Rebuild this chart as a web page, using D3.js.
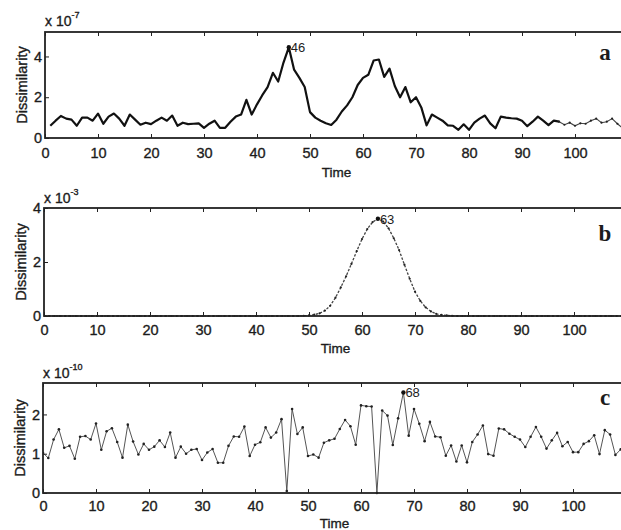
<!DOCTYPE html>
<html>
<head>
<meta charset="utf-8">
<script src="https://cdn.jsdelivr.net/npm/d3@7"></script>
<style>
  body { margin: 0; background: #fff; }
  svg text { font-family: "Liberation Sans", Arial, Helvetica, sans-serif; fill: #1c1c1c; }
  .lbl { stroke: #1c1c1c; stroke-width: 0.35; }
</style>
</head>
<body>
<svg id="chart" width="621" height="530"></svg>
<script>
// Dissimilarity series (a: x 1e-7, b: x 1e-3, c: x 1e-10)
const valuesA = [
  0.6, 0.85, 1.08, 0.95, 0.9, 0.6, 1.0, 1.0, 0.85, 1.2,
  0.7, 1.05, 1.2, 0.95, 0.6, 1.15, 0.9, 0.65, 0.75, 0.68,
  0.85, 1.0, 0.85, 1.1, 0.6, 0.75, 0.68, 0.7, 0.72, 0.5,
  0.7, 0.85, 0.5, 0.5, 0.8, 1.05, 1.15, 1.87, 1.15, 1.65,
  2.1, 2.5, 3.2, 2.77, 3.7, 4.45, 3.35, 2.95, 2.5, 1.27,
  1.0, 0.85, 0.72, 0.64, 0.9, 1.3, 1.6, 2.0, 2.6, 2.95,
  3.1, 3.8, 3.85, 3.0, 3.4, 2.55, 2.0, 2.5, 1.75, 2.0,
  1.5, 0.62, 1.15, 1.0, 0.85, 0.62, 0.6, 0.4, 0.67, 0.4,
  0.75, 0.95, 1.1, 0.72, 0.48, 1.05, 1.0, 0.97, 0.95, 0.85,
  0.58, 0.8, 1.05, 0.85, 0.63, 0.85, 0.8, 0.65, 0.75, 0.6,
  0.72, 0.7, 0.85, 0.95, 0.75, 0.8, 0.95, 0.7, 0.48, 0.85
];
const valuesB = [
  0, 0, 0, 0, 0, 0, 0, 0, 0, 0,
  0, 0, 0, 0, 0, 0, 0, 0, 0, 0,
  0, 0, 0, 0, 0, 0, 0, 0, 0, 0,
  0, 0, 0, 0, 0, 0, 0, 0, 0, 0,
  0, 0, 0, 0, 0, 0, 0, 0, 0, 0.01,
  0.02, 0.05, 0.1, 0.2, 0.38, 0.68, 1.06, 1.47, 1.93, 2.4,
  2.85, 3.22, 3.48, 3.6, 3.5, 3.25, 2.88, 2.44, 1.9, 1.38,
  0.9, 0.56, 0.32, 0.17, 0.08, 0.04, 0.02, 0.01, 0, 0,
  0, 0, 0, 0, 0, 0, 0, 0, 0, 0,
  0, 0, 0, 0, 0, 0, 0, 0, 0, 0,
  0, 0, 0, 0, 0, 0, 0, 0, 0, 0, 0
];
const valuesC = [
  1.02, 0.89, 1.36, 1.62, 1.15, 1.2, 0.87, 1.43, 1.45, 1.36,
  1.77, 1.1, 1.57, 1.65, 1.3, 0.9, 1.74, 1.31, 0.98, 1.25,
  1.1, 1.18, 1.34, 1.17, 1.54, 0.9, 1.18, 1.0, 1.1, 1.12,
  0.84, 1.03, 1.12, 0.77, 0.77, 1.2, 1.44, 1.43, 1.69, 0.94,
  1.23, 1.29, 1.67, 1.41, 1.54, 1.88, 0.05, 2.14, 1.5, 1.67,
  0.94, 0.98, 0.9, 1.28, 1.34, 1.38, 1.63, 1.86, 1.7, 1.23,
  2.23, 2.21, 2.2, 0.0, 2.1, 1.97, 1.22, 1.9, 2.56, 1.46,
  2.14, 1.76, 1.32, 1.81, 1.44, 1.42, 0.95, 1.21, 0.8, 1.21,
  0.78, 1.3, 1.49, 1.72, 0.99, 0.95, 1.64, 1.62, 1.51, 1.43,
  1.36, 1.17, 1.43, 1.68, 1.43, 1.13, 1.34, 1.53, 1.19, 1.3,
  1.04, 1.04, 1.25, 1.32, 1.47, 0.99, 1.6, 1.49, 0.97, 1.11, 1.0
];
const timeA = d3.range(1, 111);
const timeB = d3.range(0, 111);
const timeC = d3.range(0, 111);

const xTicks = [0, 10, 20, 30, 40, 50, 60, 70, 80, 90, 100];
const yTicksA = [0, 2, 4];
const yTicksB = [0, 2, 4];
const yTicksC = [0, 1, 2];
const peakTimes = [46, 63, 68];
const exponents = ["-7", "-3", "-10"];
const panelLetters = ["a", "b", "c"];

const svg = d3.select("#chart");

const panels = [
  { t: timeA, v: valuesA, yTicks: yTicksA, ymax: 5.2, top: 32, bottom: 138, left: 45,
    tickBase: 158, titleBase: 177, expBase: 26, letterBase: 60, style: "a" },
  { t: timeB, v: valuesB, yTicks: yTicksB, ymax: 4, top: 208, bottom: 316, left: 44,
    tickBase: 335, titleBase: 353, expBase: 203, letterBase: 241, style: "b" },
  { t: timeC, v: valuesC, yTicks: yTicksC, ymax: 2.8, top: 383, bottom: 493, left: 43,
    tickBase: 511, titleBase: 528, expBase: 378, letterBase: 405, style: "c" }
];

panels.forEach((p, i) => {
  const x = d3.scaleLinear().domain([0, 110]).range([p.left, p.left + 110 * 5.3]);
  const y = d3.scaleLinear().domain([0, p.ymax]).range([p.bottom, p.top]);
  const g = svg.append("g");

  // series
  const pts = p.t.map((t, k) => [t, p.v[k]]);
  const line = d3.line().x(d => x(d[0])).y(d => y(d[1]));
  const clipId = "clip" + i;
  svg.append("clipPath").attr("id", clipId)
    .append("rect").attr("x", p.left).attr("y", p.top - 2)
    .attr("width", 621 - p.left).attr("height", p.bottom - p.top + 4);
  const gl = g.append("g").attr("clip-path", `url(#${clipId})`);

  if (p.style === "a") {
    const solid = pts.filter(d => d[0] <= 97);
    const thin = pts.filter(d => d[0] >= 97);
    gl.append("path").attr("d", line(solid)).attr("fill", "none")
      .attr("stroke", "#111").attr("stroke-width", 2.2).attr("stroke-linejoin", "round");
    gl.append("path").attr("d", line(thin)).attr("fill", "none")
      .attr("stroke", "#444").attr("stroke-width", 1.1);
    gl.selectAll("circle.m").data(thin).join("circle")
      .attr("cx", d => x(d[0])).attr("cy", d => y(d[1])).attr("r", 1.1).attr("fill", "#222");
  } else if (p.style === "b") {
    gl.append("path").attr("d", line(pts)).attr("fill", "none")
      .attr("stroke", "#444").attr("stroke-width", 1.3).attr("stroke-dasharray", "2.5,1.5");
    gl.selectAll("circle.m").data(pts).join("circle")
      .attr("cx", d => x(d[0])).attr("cy", d => y(d[1])).attr("r", 1.1).attr("fill", "#222");
  } else {
    gl.append("path").attr("d", line(pts)).attr("fill", "none")
      .attr("stroke", "#555").attr("stroke-width", 1);
    gl.selectAll("circle.m").data(pts).join("circle")
      .attr("cx", d => x(d[0])).attr("cy", d => y(d[1])).attr("r", 1.3).attr("fill", "#222");
  }

  // box
  g.append("rect").attr("x", p.left).attr("y", p.top)
    .attr("width", x(110) - p.left).attr("height", p.bottom - p.top)
    .attr("fill", "none").attr("stroke", "#222").attr("stroke-width", 1.8);

  // axes with inward ticks
  const xb = g.append("g").attr("transform", `translate(0,${p.bottom})`)
    .call(d3.axisBottom(x).tickValues(xTicks).tickSize(-4).tickSizeOuter(0).tickFormat(d3.format("d")));
  xb.select(".domain").remove();
  xb.selectAll("line").attr("stroke", "#222");
  xb.selectAll("text").attr("dy", null).attr("y", p.tickBase - p.bottom)
    .attr("class", "lbl").attr("font-size", 14.5);

  const xt = g.append("g").attr("transform", `translate(0,${p.top})`)
    .call(d3.axisTop(x).tickValues(xTicks).tickSize(-4).tickSizeOuter(0).tickFormat(""));
  xt.select(".domain").remove();
  xt.selectAll("line").attr("stroke", "#222");

  const yl = g.append("g").attr("transform", `translate(${p.left},0)`)
    .call(d3.axisLeft(y).tickValues(p.yTicks).tickSize(-4).tickSizeOuter(0).tickFormat(d3.format("d")));
  yl.select(".domain").remove();
  yl.selectAll("line").attr("stroke", "#222");
  yl.selectAll("text").attr("x", -3).attr("class", "lbl").attr("font-size", 14.5);

  // axis titles
  g.append("text").attr("x", (p.left + x(110)) / 2).attr("y", p.titleBase)
    .attr("text-anchor", "middle").attr("class", "lbl").attr("font-size", 13.5).text("Time");
  g.append("text")
    .attr("transform", `translate(${p.left - 18},${(p.top + p.bottom) / 2}) rotate(-90)`)
    .attr("text-anchor", "middle").attr("class", "lbl").attr("font-size", 14.5).text("Dissimilarity");

  // scale exponent
  const ex = g.append("text").attr("x", p.left).attr("y", p.expBase)
    .attr("class", "lbl").attr("font-size", 14);
  ex.append("tspan").text("x 10");
  ex.append("tspan").attr("dy", -8).attr("font-size", 9).text(exponents[i]);

  // peak marker and label
  const pk = peakTimes[i];
  const pv = p.v[p.t.indexOf(pk)];
  g.append("circle").attr("cx", x(pk)).attr("cy", y(pv)).attr("r", 2.2).attr("fill", "#111");
  g.append("text").attr("x", x(pk) + 2).attr("y", y(pv) + 5)
    .attr("font-size", 13).text(String(pk));

  // panel letter
  g.append("text").attr("x", 605).attr("y", p.letterBase).attr("text-anchor", "middle")
    .style("font-family", "'Liberation Serif', 'Times New Roman', serif")
    .attr("font-weight", "bold").attr("font-size", 23).text(panelLetters[i]);
});
</script>
</body>
</html>
